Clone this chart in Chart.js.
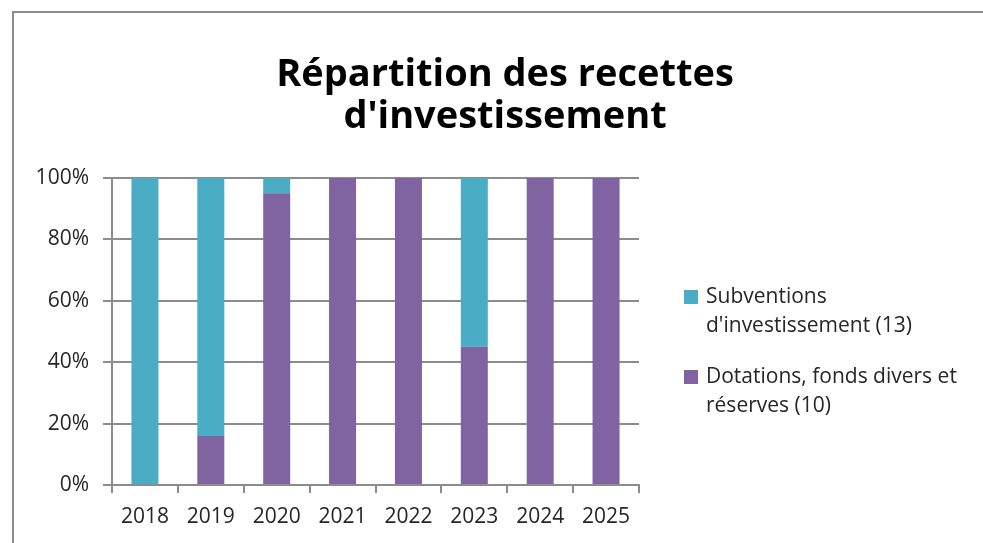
<!DOCTYPE html>
<html>
<head>
<meta charset="utf-8">
<script src="https://cdn.jsdelivr.net/npm/chart.js@4"></script>
<style>
  html, body { margin: 0; padding: 0; background: #fff; }
  #wrap { width: 983px; height: 543px; }
</style>
</head>
<body>
<div id="wrap"><canvas id="myChart" width="983" height="543"></canvas></div>
<script>
var years = ['2018', '2019', '2020', '2021', '2022', '2023', '2024', '2025'];
var dotations = [0, 16, 95, 100, 100, 45, 100, 100];
var subventions = [100, 84, 5, 0, 0, 55, 0, 0];
var yTicks = [0, 20, 40, 60, 80, 100];
var titleLines = ['Répartition des recettes', "d'investissement"];

var teal = '#4BACC6';
var purple = '#8064A2';
var grey = '#8c8c8c';
var fontName = '"Open Sans", Lato, sans-serif';

// legend entries, wrapped like the original
var legendItems = [
  { color: teal, lines: ['Subventions', "d'investissement (13)"] },
  { color: purple, lines: ['Dotations, fonds divers et', 'réserves (10)'] }
];

var frameTitleLegend = {
  id: 'frameTitleLegend',
  beforeDraw: function(chart) {
    var c = chart.ctx;
    c.save();
    c.fillStyle = '#fff';
    c.fillRect(0, 0, chart.width, chart.height);
    c.strokeStyle = grey;
    c.lineWidth = 2;
    c.beginPath();
    c.moveTo(13, chart.height);
    c.lineTo(13, 12);
    c.lineTo(chart.width, 12);
    c.stroke();
    c.restore();
  },
  afterDraw: function(chart) {
    var c = chart.ctx;
    c.save();
    // title
    c.font = 'bold 38px ' + fontName;
    c.fillStyle = '#000';
    c.textAlign = 'center';
    c.textBaseline = 'alphabetic';
    titleLines.forEach(function(line, i) {
      c.fillText(line, 505, 86 + i * 42);
    });
    // legend
    c.font = '21px ' + fontName;
    c.textBaseline = 'middle';
    c.textAlign = 'left';
    var y = 297;
    legendItems.forEach(function(item) {
      c.fillStyle = item.color;
      c.fillRect(684, y - 7, 14, 14);
      c.fillStyle = '#262626';
      item.lines.forEach(function(line, i) {
        c.fillText(line, 706, y + i * 29);
      });
      y += 80;
    });
    c.restore();
  }
};

var ctx = document.getElementById('myChart').getContext('2d');
var myChart = new Chart(ctx, {
  type: 'bar',
  data: {
    labels: years,
    datasets: [{
      label: 'Dotations, fonds divers et réserves (10)',
      data: dotations,
      backgroundColor: purple
    }, {
      label: "Subventions d'investissement (13)",
      data: subventions,
      backgroundColor: teal
    }]
  },
  options: {
    responsive: false,
    animation: false,
    devicePixelRatio: 1,
    datasets: {
      bar: { categoryPercentage: 1, barPercentage: 0.41 }
    },
    layout: {
      padding: { left: 20, right: 344, top: 178, bottom: 0 }
    },
    plugins: {
      legend: { display: false },
      tooltip: { enabled: false },
      title: { display: false }
    },
    scales: {
      x: {
        stacked: true,
        grid: { drawOnChartArea: false, offset: true, color: grey, lineWidth: 2, tickLength: 8 },
        border: { color: grey, width: 2 },
        ticks: { color: '#262626', font: { family: fontName, size: 21 }, padding: 11 },
        afterFit: function(scale) { scale.height = 58; }
      },
      y: {
        stacked: true,
        min: 0,
        max: 100,
        afterBuildTicks: function(scale) {
          scale.ticks = yTicks.map(function(v) { return { value: v }; });
        },
        grid: { color: grey, lineWidth: 2, tickLength: 9 },
        border: { color: grey, width: 2 },
        ticks: {
          color: '#262626',
          font: { family: fontName, size: 21 },
          padding: 14,
          callback: function(v) { return v + '%'; }
        },
        afterFit: function(scale) { scale.width = 92; }
      }
    }
  },
  plugins: [frameTitleLegend]
});
</script>
</body>
</html>
